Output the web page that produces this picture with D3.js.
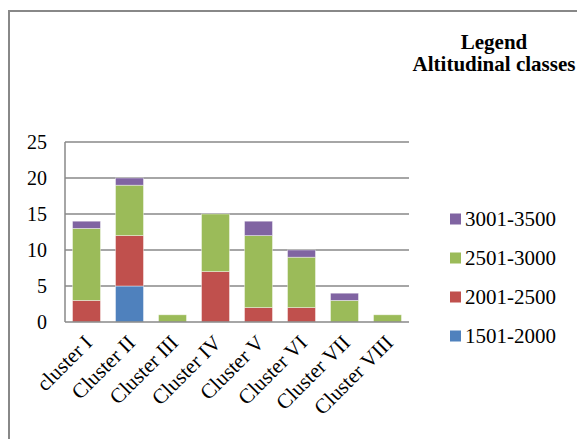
<!DOCTYPE html>
<html><head><meta charset="utf-8">
<script src="https://cdn.jsdelivr.net/npm/d3@7"></script>
<style>body{margin:0;background:#fff}svg{display:block}</style>
</head><body>
<script>
const categories = ["cluster I","Cluster II","Cluster III","Cluster IV","Cluster V","Cluster VI","Cluster VII","Cluster VIII"];
const seriesNames = ["1501-2000","2001-2500","2501-3000","3001-3500"];
const s1501_2000 = [0,5,0,0,0,0,0,0];
const s2001_2500 = [3,7,0,7,2,2,0,0];
const s2501_3000 = [10,7,1,8,10,7,3,1];
const s3001_3500 = [1,1,0,0,2,1,1,0];
const yTicks = [0,5,10,15,20,25];
const colors = ["#4F81BD","#C0504D","#9BBB59","#8064A2"];

const W=577,H=439;
const svg=d3.select("body").append("svg").attr("width",W).attr("height",H);
const font='"Liberation Serif", "Times New Roman", serif';

// frame
svg.append("path").attr("d",`M9,${H+5}V11H${W+5}`).attr("fill","none").attr("stroke","#888").attr("stroke-width",2);

const x0=65,x1=409,y0=322,y1=142;
const x=d3.scaleBand().domain(categories).range([x0,x1]).paddingInner(0.35).paddingOuter(0.175);
const y=d3.scaleLinear().domain([0,25]).range([y0,y1]);

// gridlines
svg.append("g").selectAll("line").data(yTicks.filter(d=>d>0)).join("line")
  .attr("x1",x0).attr("x2",x1).attr("y1",d=>y(d)).attr("y2",d=>y(d))
  .attr("stroke","#888").attr("stroke-width",1.5);

const rows=categories.map((c,i)=>({cat:c,s0:s1501_2000[i],s1:s2001_2500[i],s2:s2501_3000[i],s3:s3001_3500[i]}));
const stack=d3.stack().keys(["s0","s1","s2","s3"])(rows);
svg.append("g").selectAll("g").data(stack).join("g").attr("fill",(d,i)=>colors[i])
  .selectAll("rect").data(d=>d.filter(e=>e[1]-e[0]>0)).join("rect")
  .attr("x",d=>x(d.data.cat)).attr("width",x.bandwidth())
  .attr("y",d=>y(d[1])).attr("height",d=>y(d[0])-y(d[1]))
  .attr("stroke","#fff").attr("stroke-opacity",0.5).attr("stroke-width",0.8);

// axes lines
svg.append("line").attr("x1",x0).attr("x2",x0).attr("y1",y1).attr("y2",y0).attr("stroke","#888").attr("stroke-width",1.5);
svg.append("line").attr("x1",x0).attr("x2",x1).attr("y1",y0).attr("y2",y0).attr("stroke","#888").attr("stroke-width",1.5);

// y labels
const yAxis=d3.axisLeft(y).tickValues(yTicks).tickSize(0).tickPadding(18);
const ga=svg.append("g").attr("transform",`translate(${x0},0)`).call(yAxis);
ga.select(".domain").remove();
ga.attr("font-family",null).attr("font-size",null);
ga.selectAll("text").style("font-family",font).style("font-size","20px").attr("fill","#000");

// x labels
svg.append("g").selectAll("text").data(categories).join("text")
  .attr("transform",d=>`translate(${x(d)+x.bandwidth()/2+7},${y0+22}) rotate(-45)`)
  .attr("text-anchor","end").style("font-family",font).style("font-size","21px").attr("fill","#000")
  .text(d=>d);

// legend title
svg.append("text").attr("x",494).attr("y",49).attr("text-anchor","middle").style("font-family",font)
  .style("font-weight","bold").style("font-size","21px").text("Legend");
svg.append("text").attr("x",494).attr("y",71).attr("text-anchor","middle").style("font-family",font)
  .style("font-weight","bold").style("font-size","21px").text("Altitudinal classes");

const legY=d3.scalePoint().domain(seriesNames.slice().reverse()).range([219,336]);
const lg=svg.append("g").selectAll("g").data(seriesNames).join("g")
  .attr("transform",d=>`translate(450,${legY(d)})`);
lg.append("rect").attr("x",0).attr("y",-5.5).attr("width",11).attr("height",11).attr("fill",(d,i)=>colors[i]);
lg.append("text").attr("x",15).attr("y",7).style("font-family",font).style("font-size","21px").text(d=>d);
</script>
</body></html>
